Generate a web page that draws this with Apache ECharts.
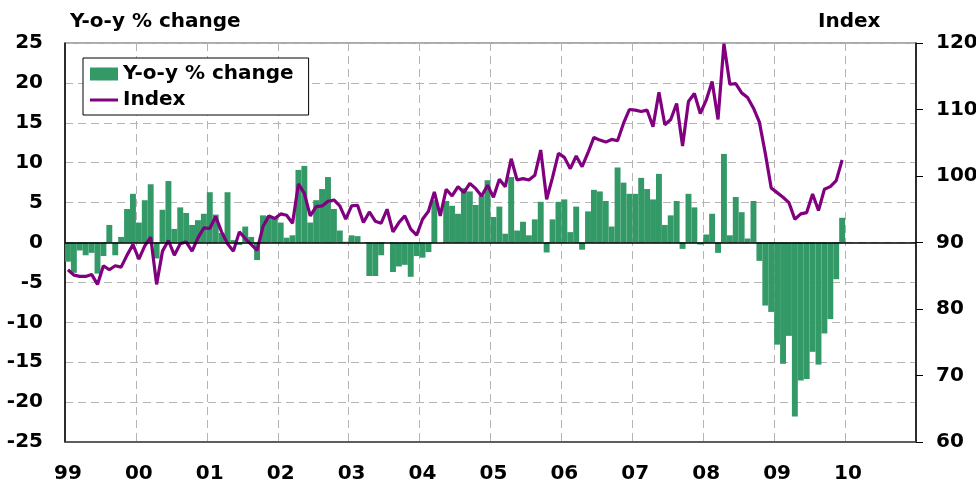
<!DOCTYPE html>
<html>
<head>
<meta charset="utf-8">
<script src="https://cdn.jsdelivr.net/npm/echarts@6/dist/echarts.min.js"></script>
<style>
html,body{margin:0;padding:0;background:#fff;}
#chart{width:976px;height:481px;}
</style>
</head>
<body>
<div id="chart"></div>
<script>
// Year tick labels (axis runs Jan 1999 .. Dec 2010, monthly)
const yearLabels = ['99','00','01','02','03','04','05','06','07','08','09','10'];
const monthLabels = ['01','02','03','04','05','06','07','08','09','10','11','12'];

// Y-o-y % change (bars), Jan 1999 .. Dec 2009
const yoyChange = [
  -2.4, -3.8, -1.0, -1.6, -1.3, -3.9, -1.7, 2.2, -1.6, 0.7, 4.2, 6.1,
  2.5, 5.3, 7.3, -2.0, 4.1, 7.7, 1.7, 4.4, 3.7, 2.2, 2.8, 3.6,
  6.3, 3.5, 1.2, 6.3, 0.3, -0.3, 2.0, 0.7, -2.2, 3.4, 3.3, 3.2,
  2.5, 0.6, 0.9, 9.1, 9.6, 2.5, 5.3, 6.7, 8.2, 4.2, 1.5, 0.1,
  0.9, 0.8, 0.0, -4.2, -4.2, -1.6, 0.0, -3.7, -3.0, -2.8, -4.3, -1.7,
  -1.9, -1.2, 5.3, 0.0, 5.2, 4.6, 3.6, 6.8, 6.4, 4.7, 5.9, 7.8,
  3.2, 4.5, 1.1, 8.2, 1.5, 2.6, 0.9, 2.9, 5.1, -1.25, 2.9, 5.1,
  5.4, 1.3, 4.5, -0.9, 3.9, 6.6, 6.4, 5.2, 2.0, 9.4, 7.5, 6.1,
  6.1, 8.1, 6.7, 5.4, 8.6, 2.2, 3.4, 5.2, -0.8, 6.1, 4.4, -0.25,
  1.0, 3.6, -1.3, 11.1, 0.9, 5.7, 3.8, 0.5, 5.2, -2.3, -7.9, -8.7,
  -12.8, -15.2, -11.7, -21.8, -17.3, -17.1, -13.7, -15.3, -11.4, -9.6, -4.6, 3.1
];

// Index (line, right axis), Jan 1999 .. Dec 2009
const indexValues = [
  85.9, 85.1, 84.9, 84.9, 85.2, 83.7, 86.5, 85.9, 86.5, 86.3, 88.1, 89.7,
  87.5, 89.5, 90.8, 83.7, 88.7, 90.3, 88.1, 89.8, 90.1, 88.7, 90.7, 92.2,
  92.1, 93.9, 91.6, 89.8, 88.7, 91.6, 90.6, 89.7, 88.8, 92.4, 94.0, 93.6,
  94.3, 94.1, 92.9, 98.8, 97.4, 94.0, 95.4, 95.5, 96.2, 96.4, 95.5, 93.5,
  95.5, 95.6, 93.0, 94.6, 93.2, 92.9, 95.0, 91.6, 93.0, 94.0, 92.0, 91.1,
  93.5, 94.7, 97.6, 94.0, 98.0, 97.0, 98.4, 97.5, 98.9, 98.1, 97.0, 98.6,
  96.8, 99.5, 98.4, 102.6, 99.4, 99.6, 99.4, 100.1, 103.9, 96.5, 99.8, 103.4,
  102.8, 101.1, 103.0, 101.4, 103.5, 105.8, 105.4, 105.1, 105.5, 105.3, 107.9, 110.0,
  109.9, 109.7, 109.9, 107.4, 112.6, 107.7, 108.5, 110.9, 104.5, 111.2, 112.4, 109.4,
  111.4, 114.2, 108.5, 119.9, 113.8, 113.9, 112.5, 111.8, 110.2, 108.1, 103.4, 98.2,
  97.5, 96.8, 96.0, 93.5, 94.3, 94.5, 97.3, 94.8, 98.0, 98.4, 99.3, 102.4
];

// monthly categories built from the year / month label lists
const categories = [];
yearLabels.forEach(y => monthLabels.forEach(m => categories.push(y + '-' + m)));
const monthsPerYear = monthLabels.length;

const FONT = '"DejaVu Sans", "Liberation Sans", Arial, sans-serif';
const txt = {color: '#000', fontFamily: FONT, fontWeight: 'bold', fontSize: 20};
const hDash = {color: '#b4b4b4', width: 1, type: [8, 5]};
const vDash = {color: '#b4b4b4', width: 1, type: [8, 5]};

const chart = echarts.init(document.getElementById('chart'), null, {renderer: 'canvas'});
chart.setOption({
  animation: false,
  backgroundColor: '#fff',
  grid: {left: 65, right: 60, top: 43, bottom: 39, outerBoundsMode: 'none', containLabel: false,
         show: true, borderColor: '#555', borderWidth: 1, backgroundColor: 'rgba(0,0,0,0)'},
  graphic: [
    {type: 'text', left: 70, top: 12, style: {text: 'Y-o-y % change', font: 'bold 20px ' + FONT, fill: '#000'}},
    {type: 'text', left: 818, top: 12, style: {text: 'Index', font: 'bold 20px ' + FONT, fill: '#000'}}
  ],
  legend: {
    orient: 'vertical', left: 83, top: 58,
    padding: [6, 15, 5, 7], itemGap: 6, itemWidth: 28, itemHeight: 13,
    borderColor: '#000', borderWidth: 1, backgroundColor: '#fff',
    textStyle: txt,
    data: [
      {name: 'Y-o-y % change', icon: 'rect'},
      {name: 'Index', icon: 'path://M0,0 L28,0 L28,3 L0,3 Z'}
    ]
  },
  xAxis: {
    type: 'category', data: categories, boundaryGap: true,
    axisLine: {show: true, onZero: false, lineStyle: {color: '#444', width: 1.5}},
    axisTick: {show: true, interval: monthsPerYear - 1, length: 0},
    axisLabel: Object.assign({}, txt, {margin: 22, interval: monthsPerYear - 1, formatter: (v) => v.slice(0, 2)}),
    splitLine: {show: true, interval: monthsPerYear - 1, lineStyle: vDash}
  },
  yAxis: [
    {
      type: 'value', min: -25, max: 25, interval: 5, position: 'left',
      axisLine: {show: true, lineStyle: {color: '#000', width: 1.5}},
      axisTick: {show: false},
      axisLabel: Object.assign({}, txt, {margin: 22}),
      splitLine: {show: true, lineStyle: hDash}
    },
    {
      type: 'value', min: 60, max: 120, interval: 10, position: 'right',
      axisLine: {show: true, lineStyle: {color: '#000', width: 1.5}},
      axisTick: {show: true, inside: false, length: 7, lineStyle: {color: '#000', width: 1}},
      axisLabel: Object.assign({}, txt, {margin: 20}),
      splitLine: {show: false}
    }
  ],
  series: [
    {
      name: 'Y-o-y % change', type: 'bar', data: yoyChange, yAxisIndex: 0,
      barCategoryGap: '0%', barGap: '0%',
      itemStyle: {color: '#339966'},
      z: 2,
      markLine: {
        silent: true, symbol: 'none', label: {show: false},
        lineStyle: {color: '#000', width: 1.5, type: 'solid'},
        data: [{yAxis: 0}]
      }
    },
    {
      name: 'Index', type: 'line', data: indexValues, yAxisIndex: 1,
      symbol: 'none', showSymbol: false, smooth: false,
      lineStyle: {color: '#800080', width: 3.2},
      itemStyle: {color: '#800080'},
      z: 4
    }
  ]
});
</script>
</body>
</html>
